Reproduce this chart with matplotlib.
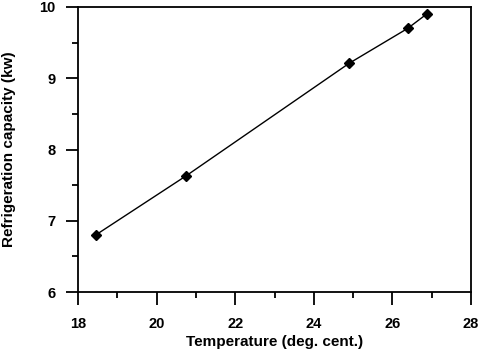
import matplotlib
matplotlib.use("Agg")
import matplotlib.pyplot as plt
from matplotlib.ticker import MultipleLocator

temperature = [18.45, 20.75, 24.9, 26.39, 26.87]
capacity = [6.8, 7.63, 9.21, 9.70, 9.90]

plt.rcParams['font.family'] = ['Liberation Sans', 'DejaVu Sans']
plt.rcParams['font.weight'] = 'bold'

fig = plt.figure(figsize=(4.8, 3.49), dpi=100)
ax = fig.add_axes([78/480, 1-292/349, (471-78)/480, (292-7)/349])

ax.plot(temperature, capacity, color='black', lw=1, marker='D', ms=5.2,
        markerfacecolor='black', markeredgecolor='black')

ax.set_xlim(18, 28)
ax.set_ylim(6, 10)
ax.xaxis.set_major_locator(MultipleLocator(2))
ax.xaxis.set_minor_locator(MultipleLocator(1))
ax.yaxis.set_major_locator(MultipleLocator(1))
ax.yaxis.set_minor_locator(MultipleLocator(0.5))

for s in ax.spines.values():
    s.set_linewidth(1.3)
ax.tick_params(which='major', direction='out', length=9, width=1.3, labelsize=10.5)
ax.tick_params(axis='x', which='major', pad=9)
ax.tick_params(axis='y', which='major', pad=7)
ax.tick_params(which='minor', direction='out', length=4.5, width=1.3)
ax.tick_params(top=False, right=False, which='both')
for lab in ax.get_xticklabels() + ax.get_yticklabels():
    lab.set_fontweight('bold')

ax.set_xlabel('Temperature (deg. cent.)', fontsize=11, fontweight='bold', labelpad=3)
ax.set_ylabel('Refrigeration capacity (kw)', fontsize=11, fontweight='bold')
ax.yaxis.set_label_coords(-0.157, 0.5)

fig.savefig('out.png', dpi=100)
